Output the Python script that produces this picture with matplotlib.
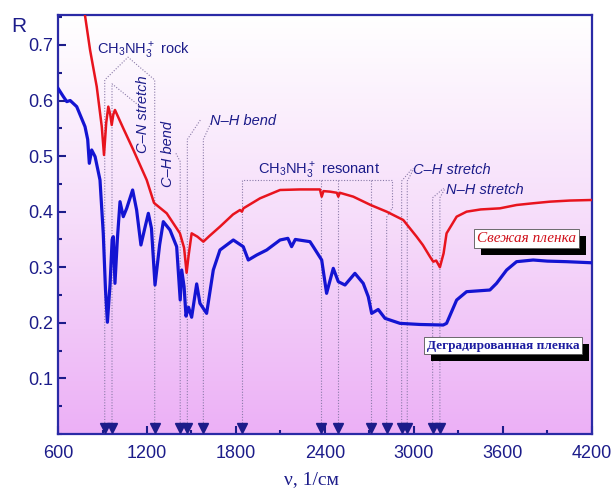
import numpy as np
import matplotlib.pyplot as plt
import matplotlib.patheffects as pe
from matplotlib.colors import LinearSegmentedColormap
from matplotlib.ticker import MultipleLocator

plt.rcParams['font.family'] = ['Liberation Sans', 'DejaVu Sans']
plt.rcParams['mathtext.fontset'] = 'custom'
plt.rcParams['mathtext.rm'] = 'Liberation Sans'

# Свежая пленка (красная кривая): волновое число, R
fresh_nu = [770, 782, 816, 861, 895, 910, 925, 939, 952, 962, 973, 984, 1040, 1108, 1198,
            1247, 1255, 1333, 1422, 1450, 1467, 1480, 1501, 1540, 1580, 1620, 1692, 1780,
            1827, 1840, 1850, 1962, 2097, 2232, 2366, 2378, 2390, 2434, 2480, 2490, 2500,
            2591, 2708, 2816, 2928, 2955, 3018, 3060, 3108, 3130, 3150, 3175, 3200, 3220,
            3288, 3355, 3450, 3580, 3692, 3800, 3917, 4050, 4200]
fresh_R = [0.78, 0.753, 0.691, 0.625, 0.553, 0.502, 0.560, 0.589, 0.575, 0.556, 0.575, 0.583,
           0.550, 0.511, 0.457, 0.416, 0.414, 0.397, 0.361, 0.335, 0.290, 0.320, 0.361,
           0.355, 0.346, 0.356, 0.373, 0.395, 0.403, 0.400, 0.406, 0.424, 0.439, 0.440,
           0.440, 0.427, 0.437, 0.436, 0.434, 0.427, 0.434, 0.427, 0.412, 0.400, 0.385,
           0.376, 0.355, 0.340, 0.319, 0.310, 0.312, 0.300, 0.325, 0.361, 0.391, 0.400,
           0.404, 0.406, 0.412, 0.415, 0.418, 0.420, 0.421]

# Деградированная пленка (синяя кривая)
degr_nu = [600, 636, 659, 682, 726, 782, 800, 811, 827, 850, 883, 905, 920, 933, 951, 965,
           973, 984, 1000, 1018, 1040, 1063, 1103, 1130, 1159, 1185, 1209, 1230, 1254,
           1285, 1310, 1355, 1400, 1424, 1434, 1450, 1463, 1480, 1501, 1535, 1557, 1602,
           1647, 1692, 1782, 1849, 1883, 1940, 2007, 2097, 2150, 2175, 2200, 2299, 2321,
           2378, 2411, 2456, 2490, 2535, 2602, 2658, 2692, 2715, 2759, 2805, 2906, 3041,
           3197, 3220, 3288, 3355, 3512, 3557, 3625, 3692, 3804, 3900, 4029, 4200]
degr_R = [0.622, 0.607, 0.598, 0.600, 0.589, 0.553, 0.530, 0.487, 0.511, 0.499, 0.457,
          0.361, 0.260, 0.201, 0.270, 0.350, 0.355, 0.271, 0.350, 0.418, 0.391, 0.406,
          0.439, 0.403, 0.340, 0.370, 0.397, 0.370, 0.268, 0.340, 0.382, 0.367, 0.337,
          0.241, 0.295, 0.265, 0.212, 0.228, 0.210, 0.270, 0.235, 0.217, 0.295, 0.331,
          0.349, 0.337, 0.313, 0.322, 0.331, 0.349, 0.352, 0.337, 0.350, 0.346, 0.337,
          0.313, 0.253, 0.298, 0.274, 0.268, 0.289, 0.271, 0.247, 0.217, 0.224, 0.208,
          0.199, 0.197, 0.196, 0.199, 0.241, 0.256, 0.259, 0.271, 0.295, 0.310, 0.313,
          0.311, 0.310, 0.308]

# положения полос (стрелки внизу)
bands = [915, 964, 1252, 1424, 1472, 1580, 1840, 2375, 2490, 2708, 2816, 2917, 2955, 3126, 3175]

navy = "#1c1c8a"
dotc = "#8a7aa8"

fig = plt.figure(figsize=(6.14, 4.92), dpi=100)
ax = fig.add_axes([0.0945, 0.118, 0.8695, 0.8505])

# градиентный фон
cmap = LinearSegmentedColormap.from_list("bg", ["#ffffff", "#f6dcfa", "#ecb0f6"])
ax.imshow(np.linspace(0, 1, 256).reshape(-1, 1), aspect="auto", cmap=cmap,
          extent=[0, 1, 0, 1], transform=ax.transAxes, zorder=0)

ax.plot(fresh_nu, fresh_R, color="#e8141e", lw=1.8, zorder=3)
ax.plot(degr_nu, degr_R, color="#1414d2", lw=2.3, zorder=3)

ax.set_xlim(600, 4200)
ax.set_ylim(0, 0.753)

# пунктирные выноски
def dline(xs, ys):
    ax.plot(xs, ys, ls=(0, (1, 1.5)), color=dotc, lw=0.8, zorder=2)

# CH3NH3+ rock: 915 и 1252
dline([915, 915, 1072, 1252, 1252], [0, 0.637, 0.678, 0.637, 0])
# C-N stretch: 964
dline([964, 964, 1150], [0, 0.63, 0.59])
# C-H bend: 1424
dline([1424, 1424, 1395], [0, 0.49, 0.505])
# N-H bend: 1472, 1580
dline([1472, 1472, 1560], [0, 0.53, 0.565])
dline([1580, 1580, 1640], [0, 0.53, 0.565])
# CH3NH3+ resonant
dline([1840, 1840, 2850, 2850], [0, 0.457, 0.457, 0.405])
for b in [2375, 2490, 2708]:
    dline([b, b], [0, 0.457])
dline([2816, 2816, 2850], [0, 0.39, 0.405])
# C-H stretch
dline([2917, 2917, 2990], [0, 0.455, 0.478])
dline([2955, 2955, 3000], [0, 0.455, 0.478])
# N-H stretch
dline([3126, 3126, 3200], [0, 0.425, 0.442])
dline([3175, 3175, 3210], [0, 0.425, 0.442])

ax.plot(bands, [0.011] * len(bands), ls="none", marker="v", ms=6.5, color=navy,
        clip_on=False, zorder=5)

# подписи полос
ax.text(863, 0.69, r"CH$_3$NH$_3^+$ rock", color=navy, fontsize=10.5, va="center")
ax.text(1170, 0.505, "C–N stretch", color=navy, fontsize=10.5, style="italic",
        rotation=90, va="bottom", ha="center")
ax.text(1342, 0.444, "C–H bend", color=navy, fontsize=10.5, style="italic",
        rotation=90, va="bottom", ha="center")
ax.text(1625, 0.563, "N–H bend", color=navy, fontsize=10.5, style="italic", va="center")
ax.text(1948, 0.475, r"CH$_3$NH$_3^+$ resonant", color=navy, fontsize=10.5, va="center")
ax.text(2993, 0.475, "C–H stretch", color=navy, fontsize=10.5, style="italic", va="center")
ax.text(3216, 0.439, "N–H stretch", color=navy, fontsize=10.5, style="italic", va="center")

# подписи кривых с тенью
def boxed(x, y, s, color, **kw):
    t = ax.text(x, y, s, color=color, ha="center", va="center", zorder=6,
                bbox=dict(boxstyle="square,pad=0.2", fc="white", ec="#555555", lw=0.6), **kw)
    t.get_bbox_patch().set_path_effects(
        [pe.SimplePatchShadow(offset=(5, -5), shadow_rgbFace="black", alpha=1), pe.Normal()])

boxed(3758, 0.352, "Свежая пленка", "#d0101a", fontsize=11, style="italic",
      family="Liberation Serif")
boxed(3600, 0.159, "Деградированная пленка", "#1c1ca0", fontsize=9.5, weight="bold",
      family="Liberation Serif")

# оси
ax.xaxis.set_major_locator(MultipleLocator(600))
ax.xaxis.set_minor_locator(MultipleLocator(300))
ax.set_yticks([0.1, 0.2, 0.3, 0.4, 0.5, 0.6, 0.7])
ax.yaxis.set_minor_locator(MultipleLocator(0.05))
ax.tick_params(which="both", direction="in", color=navy, labelcolor=navy,
               labelsize=13, width=1.5)
ax.tick_params(which="major", length=6)
ax.tick_params(which="minor", length=3)
ax.tick_params(axis="x", pad=8)
for s in ax.spines.values():
    s.set_color("#2a2aa6")
    s.set_linewidth(1.6)

ax.set_xlabel("ν, 1/см", family="Liberation Serif", fontsize=14, color=navy)
ax.xaxis.set_label_coords(0.474, -0.088)
fig.text(0.018, 0.935, "R", fontsize=15, color=navy)

fig.savefig("out.png", dpi=100)
